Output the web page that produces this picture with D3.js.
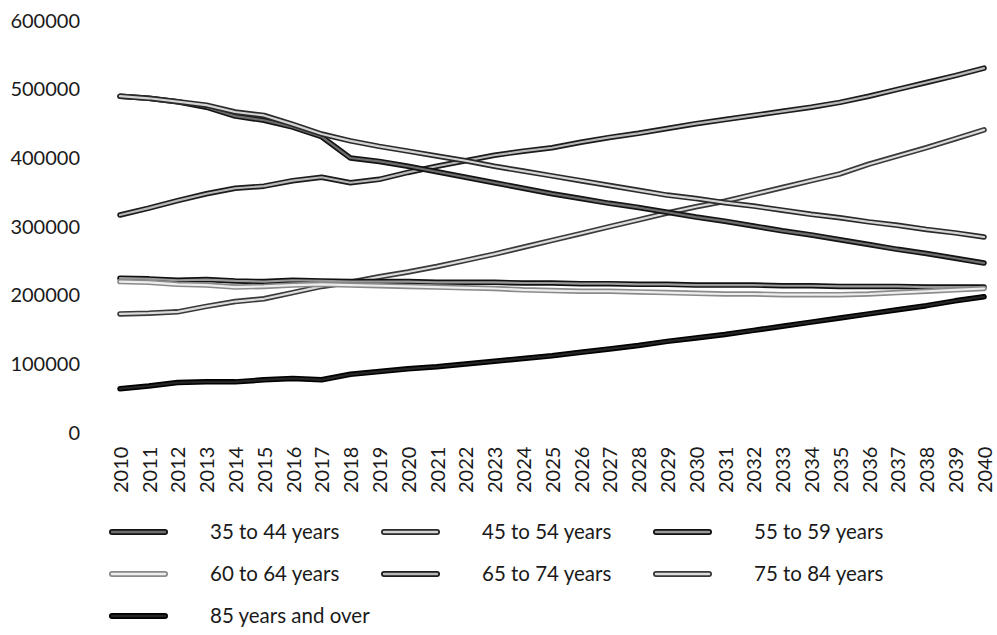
<!DOCTYPE html>
<html>
<head>
<meta charset="utf-8">
<script src="https://cdn.jsdelivr.net/npm/d3@7/dist/d3.min.js"></script>
<style>
  html, body { margin: 0; padding: 0; background: #fff; }
  svg { display: block; }
  text { font-family: Lato, "Open Sans", sans-serif; fill: #1a1a1a; }
</style>
</head>
<body>
<svg id="chart" width="997" height="635"></svg>
<script>
const years = d3.range(2010, 2041);
const seriesNames = ["35 to 44 years", "45 to 54 years", "55 to 59 years", "60 to 64 years", "65 to 74 years", "75 to 84 years", "85 years and over"];
const yTicks = [0, 100000, 200000, 300000, 400000, 500000, 600000];

const s35to44 = [489,486,481,473,460,454,444,430,399,394,387,379,371,363,355,347,340,333,327,320,313,307,300,293,287,280,273,266,260,253,246];
const s45to54 = [489,486,481,476,466,461,448,434,424,416,409,402,395,387,380,373,366,359,352,345,340,334,329,323,317,312,306,301,295,290,284];
const s55to59 = [224,223,221,222,220,219,221,220,219,219,219,218,218,218,217,217,216,216,215,215,214,214,214,213,213,212,212,212,211,211,211];
const s60to64 = [219,218,215,214,211,212,214,215,214,213,212,211,210,209,207,206,205,205,204,203,202,201,201,200,200,200,201,203,205,207,209];
const s65to74 = [316,326,337,347,355,358,366,371,363,368,378,387,395,403,409,414,422,429,435,442,449,455,461,467,473,480,489,499,509,519,530];
const s75to84 = [172,173,175,183,190,194,203,212,218,226,233,241,250,259,269,279,289,299,309,319,328,336,346,356,366,376,390,402,414,427,440];
const s85plus = [63,67,72,73,73,76,78,76,84,88,92,95,99,103,107,111,116,121,126,132,137,142,148,154,160,166,172,178,184,191,197];

const seriesValues = [s35to44, s45to54, s55to59, s60to64, s65to74, s75to84, s85plus];
// outer / inner stroke colours emulating the outlined greyscale lines
const outerColors = ["#141414", "#2a2a2a", "#111111", "#8a8a8a", "#1c1c1c", "#3a3a3a", "#000000"];
const innerColors = ["#6e6e6e", "#d4d4d4", "#9a9a9a", "#eeeeee", "#b8b8b8", "#dcdcdc", "#262626"];

const svg = d3.select("#chart");
const x = d3.scaleLinear().domain([2010, 2040]).range([120, 984]);
const y = d3.scaleLinear().domain([0, 600000]).range([432, 20]);

// Y axis labels
const yAxis = d3.axisLeft(y).tickValues(yTicks).tickSize(0).tickPadding(0).tickFormat(d3.format("d"));
const gy = svg.append("g").attr("transform", "translate(80,0)").call(yAxis);
gy.select(".domain").remove();
gy.selectAll("text").style("font-size", "20px").style("font-family", "Lato, sans-serif").attr("fill", "#1a1a1a").attr("dy", "0.35em");

// X axis labels (rotated)
const xAxis = d3.axisBottom(x).tickValues(years).tickSize(0).tickPadding(0).tickFormat(d3.format("d"));
const gx = svg.append("g").attr("transform", "translate(0,493)").call(xAxis);
gx.select(".domain").remove();
gx.selectAll("text")
  .style("font-size", "20px").style("font-family", "Lato, sans-serif").attr("fill", "#1a1a1a")
  .attr("transform", "rotate(-90)")
  .attr("text-anchor", "start")
  .attr("x", 0).attr("y", 0).attr("dy", "0.36em");

const line = d3.line().x((d, i) => x(years[i])).y(d => y(d * 1000));

const order = [4, 5, 2, 3, 0, 1, 6];
order.forEach(k => {
  const g = svg.append("g");
  g.append("path").datum(seriesValues[k]).attr("d", line)
    .attr("fill", "none").attr("stroke", outerColors[k]).attr("stroke-width", 5.5)
    .attr("stroke-linecap", "round").attr("stroke-linejoin", "round");
  g.append("path").datum(seriesValues[k]).attr("d", line)
    .attr("fill", "none").attr("stroke", innerColors[k]).attr("stroke-width", 2.2)
    .attr("stroke-linecap", "round").attr("stroke-linejoin", "round");
});

// Legend
const legendRowY = [532, 574, 616];
const colX = [112, 384, 656];
seriesNames.forEach((name, k) => {
  const row = Math.floor(k / 3), col = k % 3;
  const lx = colX[col], ly = legendRowY[row];
  const g = svg.append("g");
  g.append("line").attr("x1", lx).attr("x2", lx + 53).attr("y1", ly).attr("y2", ly)
    .attr("stroke", outerColors[k]).attr("stroke-width", 6).attr("stroke-linecap", "round");
  g.append("line").attr("x1", lx).attr("x2", lx + 53).attr("y1", ly).attr("y2", ly)
    .attr("stroke", innerColors[k]).attr("stroke-width", 2.4).attr("stroke-linecap", "round");
  g.append("text").attr("x", lx + 98).attr("y", ly).attr("dy", "0.35em")
    .style("font-size", "20.5px").text(name);
});
</script>
</body>
</html>
